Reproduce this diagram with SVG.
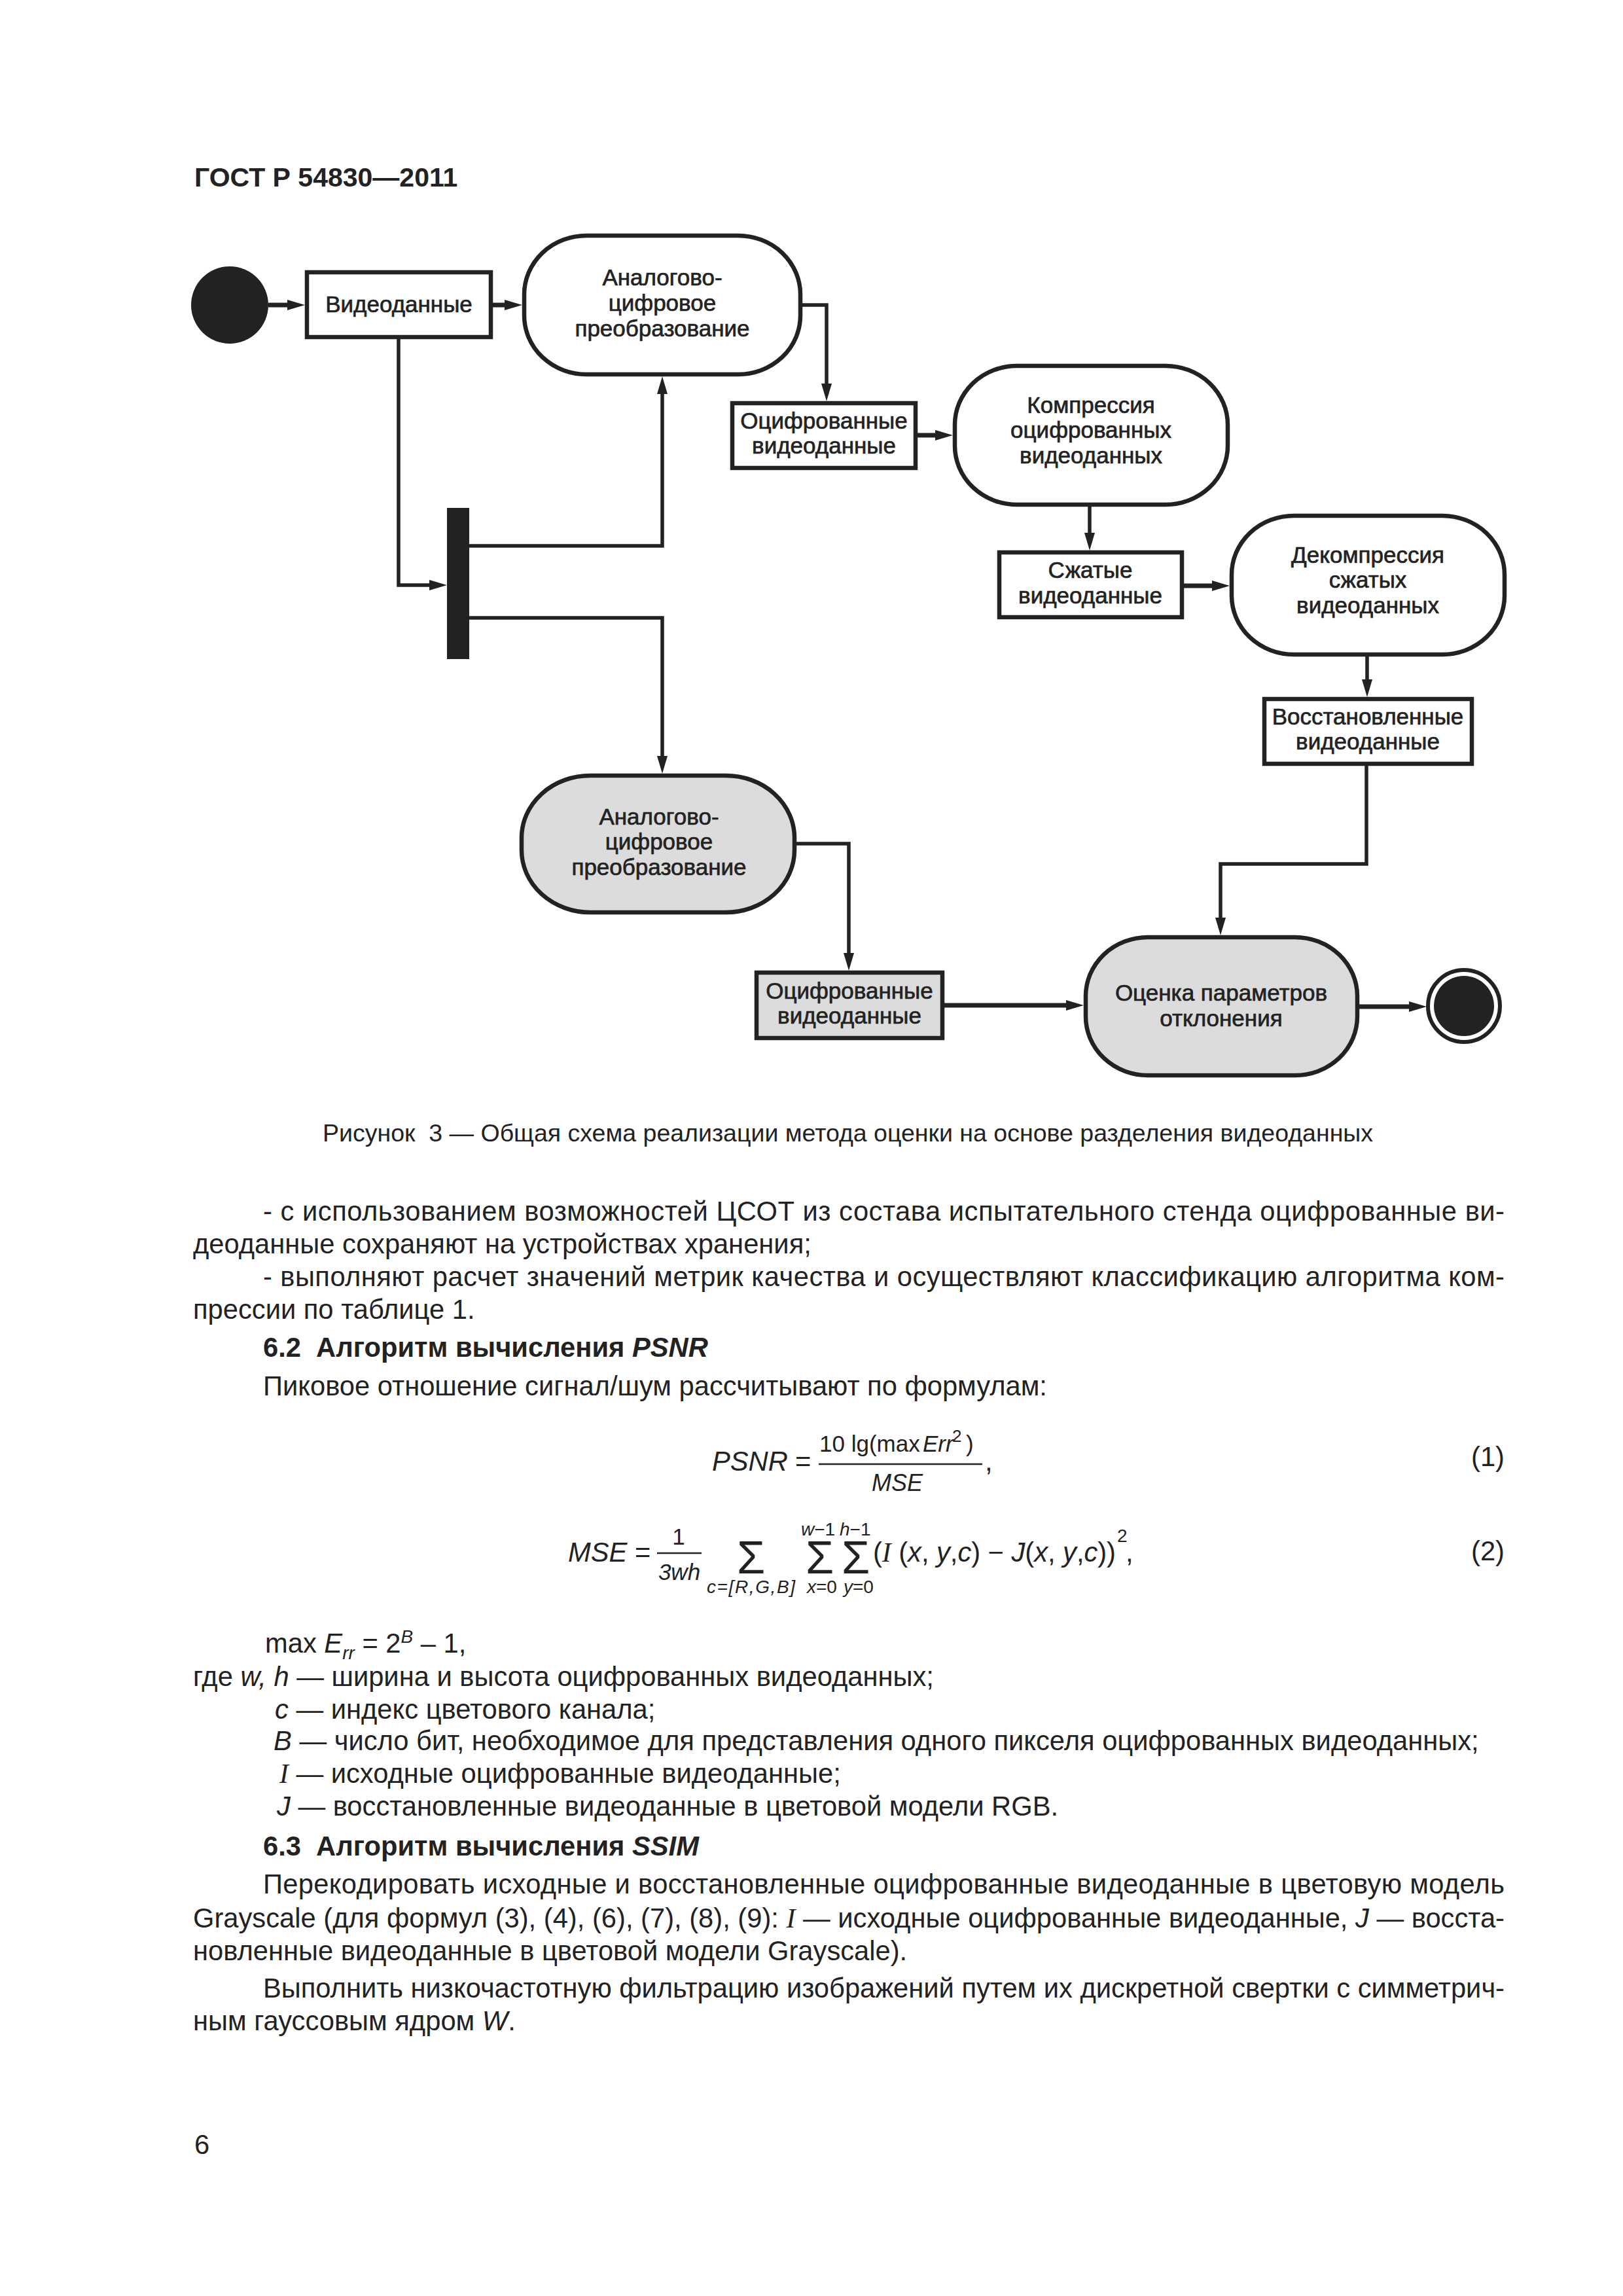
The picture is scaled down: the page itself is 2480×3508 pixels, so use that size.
<svg xmlns="http://www.w3.org/2000/svg" width="2480" height="3508" viewBox="0 0 2480 3508">
<style>
.bx{fill:#fff;stroke:#222;stroke-width:6.5}
.gbx{fill:#dcdcdc;stroke:#222;stroke-width:6.5}
.lbl{font-family:"Liberation Sans",Arial,sans-serif;font-size:35px;fill:#222;stroke:#222;stroke-width:0.7;text-anchor:middle}
.cn{fill:none;stroke:#222;stroke-width:5.5}
.tk{stroke-width:7}
.t{font-family:"Liberation Sans",Arial,sans-serif;font-size:41.7px;fill:#222;white-space:pre}
.cap{font-family:"Liberation Sans",Arial,sans-serif;font-size:37.5px;fill:#222;white-space:pre}
.b{font-weight:bold}
.i{font-style:italic}
.si{font-family:"Liberation Serif",serif;font-style:italic}
.sm{font-size:28px}
.sig{font-family:"Liberation Sans",Arial,sans-serif;font-size:70px;fill:#222}
</style>
<defs>
<marker id="ah" markerUnits="userSpaceOnUse" markerWidth="28" markerHeight="16" viewBox="0 0 27 16" refX="7" refY="8" orient="auto">
<path d="M0,0 L27,8 L0,16 z" fill="#222"/>
</marker>
</defs>
<rect width="2480" height="3508" fill="#fff"/>

<text class="t b" x="297" y="285" style="font-size:41px">ГОСТ Р 54830—2011</text>

<g id="connectors">
<path class="cn tk" d="M410,466 H446" marker-end="url(#ah)"/>
<path class="cn tk" d="M753,466 H778" marker-end="url(#ah)"/>
<path class="cn" d="M1223,466 H1263 V593" marker-end="url(#ah)"/>
<path class="cn tk" d="M1402,665 H1436" marker-end="url(#ah)"/>
<path class="cn" d="M1665,774 V821" marker-end="url(#ah)"/>
<path class="cn tk" d="M1809,895 H1859" marker-end="url(#ah)"/>
<path class="cn" d="M2089,1003 V1045" marker-end="url(#ah)"/>
<path class="cn" d="M2088,1170 V1320 H1865 V1409" marker-end="url(#ah)"/>
<path class="cn" d="M609,518 V894 H663" marker-end="url(#ah)"/>
<path class="cn" d="M717,834 H1012 V595" marker-end="url(#ah)"/>
<path class="cn" d="M717,944 H1012 V1162" marker-end="url(#ah)"/>
<path class="cn" d="M1217,1289 H1297 V1463" marker-end="url(#ah)"/>
<path class="cn tk" d="M1443,1536 H1636" marker-end="url(#ah)"/>
<path class="cn tk" d="M2077,1538 H2160" marker-end="url(#ah)"/>
</g>

<g id="start"><circle cx="351" cy="466" r="59" fill="#222"/></g>

<g id="videodata">
<rect class="bx" x="469" y="416" width="281" height="99"/>
<text class="lbl" x="609.5" y="477">Видеоданные</text>
</g>

<g id="adc1">
<rect class="bx" x="801" y="360" width="422" height="212" rx="95" ry="90"/>
<text class="lbl" x="1012" y="436">Аналогово-</text>
<text class="lbl" x="1012" y="475">цифровое</text>
<text class="lbl" x="1012" y="514">преобразование</text>
</g>

<g id="digitized1">
<rect class="bx" x="1119" y="616" width="280" height="99"/>
<text class="lbl" x="1259" y="655">Оцифрованные</text>
<text class="lbl" x="1259" y="693">видеоданные</text>
</g>

<g id="compression">
<rect class="bx" x="1459" y="559" width="417" height="212" rx="95" ry="90"/>
<text class="lbl" x="1667" y="631">Компрессия</text>
<text class="lbl" x="1667" y="669">оцифрованных</text>
<text class="lbl" x="1667" y="708">видеоданных</text>
</g>

<g id="compressed">
<rect class="bx" x="1527" y="844" width="279" height="99"/>
<text class="lbl" x="1666" y="883">Сжатые</text>
<text class="lbl" x="1666" y="922">видеоданные</text>
</g>

<g id="decompression">
<rect class="bx" x="1882" y="788" width="417" height="212" rx="95" ry="90"/>
<text class="lbl" x="2090" y="860">Декомпрессия</text>
<text class="lbl" x="2090" y="898">сжатых</text>
<text class="lbl" x="2090" y="937">видеоданных</text>
</g>

<g id="restored">
<rect class="bx" x="1932" y="1068" width="317" height="99"/>
<text class="lbl" x="2090" y="1107">Восстановленные</text>
<text class="lbl" x="2090" y="1145">видеоданные</text>
</g>

<g id="fork"><rect x="683" y="776" width="34" height="231" fill="#222"/></g>

<g id="adc2">
<rect class="gbx" x="797" y="1185" width="417" height="209" rx="105" ry="95"/>
<text class="lbl" x="1007" y="1260">Аналогово-</text>
<text class="lbl" x="1007" y="1298">цифровое</text>
<text class="lbl" x="1007" y="1337">преобразование</text>
</g>

<g id="digitized2">
<rect class="gbx" x="1156" y="1486" width="284" height="100"/>
<text class="lbl" x="1298" y="1526">Оцифрованные</text>
<text class="lbl" x="1298" y="1564">видеоданные</text>
</g>

<g id="evaluation">
<rect class="gbx" x="1659" y="1432" width="415" height="211" rx="95" ry="90"/>
<text class="lbl" x="1866" y="1529">Оценка параметров</text>
<text class="lbl" x="1866" y="1568">отклонения</text>
</g>

<g id="end">
<circle cx="2237" cy="1537" r="55" fill="#fff" stroke="#222" stroke-width="6"/>
<circle cx="2237" cy="1537" r="46" fill="#222"/>
</g>

<text class="cap" x="493" y="1744">Рисунок  3 — Общая схема реализации метода оценки на основе разделения видеоданных</text>

<g id="bodytext">
<text class="t" x="402" y="1865" textLength="1897" lengthAdjust="spacing">- с использованием возможностей ЦСОТ из состава испытательного стенда оцифрованные ви-</text>
<text class="t" x="295" y="1915">деоданные сохраняют на устройствах хранения;</text>
<text class="t" x="402" y="1965" textLength="1897" lengthAdjust="spacing">- выполняют расчет значений метрик качества и осуществляют классификацию алгоритма ком-</text>
<text class="t" x="295" y="2015">прессии по таблице 1.</text>
<text class="t b" x="402" y="2073">6.2  Алгоритм вычисления <tspan class="i">PSNR</tspan></text>
<text class="t" x="402" y="2132">Пиковое отношение сигнал/шум рассчитывают по формулам:</text>

<text class="t i" x="1088" y="2247">PSNR</text>
<text class="t" x="1215" y="2247">=</text>
<line x1="1251" y1="2237" x2="1501" y2="2237" stroke="#222" stroke-width="2.5"/>
<text class="t" x="1252" y="2218" style="font-size:35px">10 lg(max</text>
<text class="t i" x="1410" y="2218" style="font-size:35px">Err</text>
<text class="t" x="1455" y="2203" style="font-size:26px">2</text>
<text class="t" x="1476" y="2218" style="font-size:35px">)</text>
<text class="t i" x="1332" y="2278" style="font-size:36px">MSE</text>
<text class="t" x="1505" y="2247">,</text>
<text class="t" x="2299" y="2240" text-anchor="end">(1)</text>

<text class="t" x="868" y="2386"><tspan class="i">MSE</tspan> =</text>
<text class="t" x="1037" y="2360" text-anchor="middle" style="font-size:35px">1</text>
<line x1="1004" y1="2373" x2="1072" y2="2373" stroke="#222" stroke-width="2.5"/>
<text class="t i" x="1038" y="2414" text-anchor="middle" style="font-size:35px">3wh</text>
<text class="sig" x="1126" y="2404">Σ</text>
<text class="sig" x="1231" y="2404">Σ</text>
<text class="sig" x="1286" y="2404">Σ</text>
<text class="t i" x="1080" y="2434" style="font-size:28px" textLength="135" lengthAdjust="spacing">c=[R,G,B]</text>
<text class="t i" x="1224" y="2346" style="font-size:28px">w<tspan style="font-style:normal">−1</tspan></text>
<text class="t i" x="1283" y="2346" style="font-size:28px">h<tspan style="font-style:normal">−1</tspan></text>
<text class="t i" x="1233" y="2434" style="font-size:28px">x<tspan style="font-style:normal">=0</tspan></text>
<text class="t i" x="1289" y="2434" style="font-size:28px">y<tspan style="font-style:normal">=0</tspan></text>
<text class="t" x="1334" y="2386" textLength="371" lengthAdjust="spacing">(<tspan class="si">I</tspan> (<tspan class="i">x</tspan>, <tspan class="i">y</tspan>,<tspan class="i">c</tspan>) − <tspan class="i">J</tspan>(<tspan class="i">x</tspan>, <tspan class="i">y</tspan>,<tspan class="i">c</tspan>))</text>
<text class="t" x="1707" y="2356" style="font-size:28px">2</text>
<text class="t" x="1720" y="2386">,</text>
<text class="t" x="2299" y="2384" text-anchor="end">(2)</text>

<text class="t" x="405" y="2525">max <tspan class="i">E</tspan><tspan class="i sm" dy="10">rr</tspan><tspan dy="-10"> = 2</tspan><tspan class="i sm" dy="-15">B</tspan><tspan dy="15"> – 1,</tspan></text>
<text class="t" x="295" y="2576">где <tspan class="i">w, h</tspan> — ширина и высота оцифрованных видеоданных;</text>
<text class="t" x="420" y="2626"><tspan class="i">c</tspan> — индекс цветового канала;</text>
<text class="t" x="418" y="2674"><tspan class="i">B</tspan> — число бит, необходимое для представления одного пикселя оцифрованных видеоданных;</text>
<text class="t" x="427" y="2724"><tspan class="si">I</tspan> — исходные оцифрованные видеоданные;</text>
<text class="t" x="423" y="2774"><tspan class="i">J</tspan> — восстановленные видеоданные в цветовой модели RGB.</text>

<text class="t b" x="402" y="2835">6.3  Алгоритм вычисления <tspan class="i">SSIM</tspan></text>
<text class="t" x="402" y="2893" textLength="1897" lengthAdjust="spacing">Перекодировать исходные и восстановленные оцифрованные видеоданные в цветовую модель</text>
<text class="t" x="295" y="2945" textLength="2004" lengthAdjust="spacing">Grayscale (для формул (3), (4), (6), (7), (8), (9): <tspan class="si">I</tspan> — исходные оцифрованные видеоданные, <tspan class="i">J</tspan> — восста-</text>
<text class="t" x="295" y="2995">новленные видеоданные в цветовой модели Grayscale).</text>
<text class="t" x="402" y="3052" textLength="1897" lengthAdjust="spacing">Выполнить низкочастотную фильтрацию изображений путем их дискретной свертки с симметрич-</text>
<text class="t" x="295" y="3102">ным гауссовым ядром <tspan class="i">W</tspan>.</text>

<text class="t" x="297" y="3291">6</text>
</g>
</svg>
